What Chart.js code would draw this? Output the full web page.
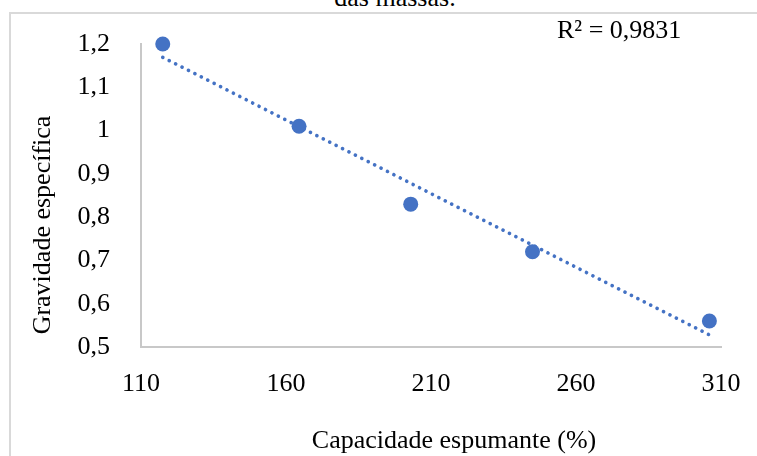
<!DOCTYPE html>
<html lang="pt">
<head>
<meta charset="utf-8">
<title>Gravidade específica x capacidade espumante</title>
<script src="https://cdn.jsdelivr.net/npm/chart.js@4.4.1/dist/chart.umd.min.js"></script>
<style>
  html, body { margin: 0; padding: 0; background: #fff; }
  body { width: 757px; height: 456px; overflow: hidden; position: relative; font-family: "Liberation Serif", "Times New Roman", serif; }
  /* moldura do gráfico (sai pela direita e por baixo) */
  #moldura { position: absolute; left: 9px; top: 12px; width: 820px; height: 520px; border: 2px solid #d9d9d9; box-sizing: border-box; }
  /* fim da legenda da figura, cortado no topo */
  #legenda { position: absolute; left: 0; width: 790px; top: -15px; text-align: center; font-size: 26px; line-height: 26px; color: #000; }
  #grafico { position: absolute; left: 0; top: 0; }
</style>
</head>
<body>
<div id="moldura"></div>
<div id="legenda">das massas.</div>
<canvas id="grafico" width="757" height="456"></canvas>
<script>
// Dados
const capacidade = [117.5, 164.5, 203, 245, 306];   // Capacidade espumante (%)
const gravidade = [1.2, 1.01, 0.83, 0.72, 0.56];     // Gravidade específica
const ticksX = [110, 160, 210, 260, 310];
const ticksY = [0.5, 0.6, 0.7, 0.8, 0.9, 1.0, 1.1, 1.2];
const tituloX = 'Capacidade espumante (%)';
const tituloY = 'Gravidade específica';
const textoR2 = 'R² = 0,9831';

const azul = '#4472C4';
const fonte = '26px "Liberation Serif", "Times New Roman", serif';

// Linha de tendência linear (mínimos quadrados) sobre os pontos
function tendenciaLinear(xs, ys) {
    const n = xs.length;
    const mx = xs.reduce((a, b) => a + b, 0) / n;
    const my = ys.reduce((a, b) => a + b, 0) / n;
    let sxy = 0, sxx = 0;
    for (let i = 0; i < n; i++) {
        sxy += (xs[i] - mx) * (ys[i] - my);
        sxx += (xs[i] - mx) * (xs[i] - mx);
    }
    const b = sxy / sxx;
    const a = my - b * mx;
    const x0 = Math.min(...xs), x1 = Math.max(...xs);
    return [{ x: x0, y: a + b * x0 }, { x: x1, y: a + b * x1 }];
}

const pontos = capacidade.map((x, i) => ({ x: x, y: gravidade[i] }));
const tendencia = tendenciaLinear(capacidade, gravidade);

// virgula decimal
function formatarNumero(v) {
    return String(Math.round(v * 10) / 10).replace('.', ',');
}

// textos fora do lugar padrão do Chart.js: R² e títulos dos eixos (deslocados como no original)
const pluginTextos = {
    id: 'textos',
    afterDraw(chart) {
        const ctx = chart.ctx;
        ctx.save();
        ctx.font = fonte;
        ctx.fillStyle = '#000';

        ctx.textAlign = 'left';
        ctx.textBaseline = 'middle';
        ctx.fillText(textoR2, 557, 31);

        ctx.textAlign = 'center';
        ctx.textBaseline = 'alphabetic';
        ctx.fillText(tituloX, 454, 448);

        ctx.translate(43, 225);
        ctx.rotate(-Math.PI / 2);
        ctx.textBaseline = 'middle';
        ctx.fillText(tituloY, 0, 0);
        ctx.restore();
    }
};

Chart.defaults.font.family = '"Liberation Serif", "Times New Roman", serif';
Chart.defaults.color = '#000';

const ctx = document.getElementById('grafico').getContext('2d');
new Chart(ctx, {
    type: 'scatter',
    data: {
        datasets: [
            {
                type: 'line',
                label: 'Linear',
                data: tendencia,
                borderColor: azul,
                borderWidth: 3.6,
                borderDash: [0.1, 7.1],
                borderCapStyle: 'round',
                pointRadius: 0,
                fill: false,
                clip: false,
                order: 0
            },
            {
                label: 'Gravidade específica',
                data: pontos,
                backgroundColor: azul,
                borderColor: azul,
                borderWidth: 0,
                pointRadius: 7.5,
                pointHoverRadius: 7.5,
                clip: false,
                order: 1
            }
        ]
    },
    options: {
        responsive: false,
        animation: false,
        layout: {
            padding: { top: 44, right: 36, left: 0, bottom: 0 }
        },
        plugins: {
            legend: { display: false },
            tooltip: { enabled: false }
        },
        scales: {
            x: {
                type: 'linear',
                position: 'bottom',
                min: 110,
                max: 310,
                afterBuildTicks: s => { s.ticks = ticksX.map(v => ({ value: v })); },
                afterFit: s => { s.height = 109; },
                grid: { display: false },
                border: { display: true, color: '#c8c8c8', width: 2 },
                ticks: {
                    font: { size: 26 },
                    color: '#000',
                    padding: 14,
                    maxRotation: 0,
                    callback: v => String(v)
                }
            },
            y: {
                type: 'linear',
                min: 0.5,
                max: 1.2,
                afterBuildTicks: s => { s.ticks = ticksY.map(v => ({ value: v })); },
                afterFit: s => { s.width = 141; },
                grid: { display: false },
                border: { display: true, color: '#c8c8c8', width: 2 },
                ticks: {
                    font: { size: 26 },
                    color: '#000',
                    padding: 23,
                    callback: v => formatarNumero(v)
                }
            }
        }
    },
    plugins: [pluginTextos]
});
</script>
</body>
</html>
